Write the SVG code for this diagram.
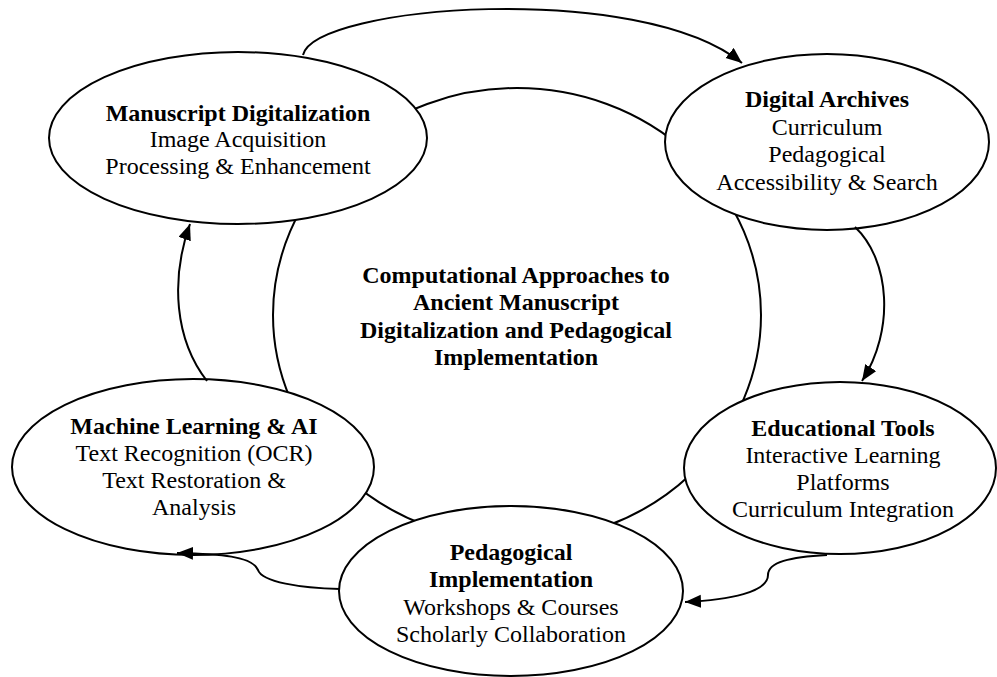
<svg xmlns="http://www.w3.org/2000/svg" width="997" height="677" viewBox="0 0 997 677">
  <style>
    .shape { fill: #ffffff; stroke: #000000; stroke-width: 2; }
    .edge { fill: none; stroke: #000000; stroke-width: 2; }
    text { font-family: "Liberation Serif", "Times New Roman", serif; font-size: 24px; fill: #000000; text-anchor: middle; }
    .title { font-weight: bold; }
  </style>
  <defs>
    <marker id="arrow" markerUnits="userSpaceOnUse" markerWidth="18" markerHeight="14" refX="16" refY="6.5" orient="auto">
      <path d="M0,0 L16,6.5 L0,13 z" fill="#000000"/>
    </marker>
  </defs>

  <rect width="997" height="677" fill="#ffffff"/>

  <!-- central topic -->
  <g id="center">
    <ellipse class="shape" cx="517" cy="315" rx="244" ry="227"/>
    <text class="title" x="516" y="283">Computational Approaches to</text>
    <text class="title" x="516" y="310">Ancient Manuscript</text>
    <text class="title" x="516" y="338">Digitalization and Pedagogical</text>
    <text class="title" x="516" y="365">Implementation</text>
  </g>

  <g id="manuscript-digitalization">
    <ellipse class="shape" cx="238" cy="138" rx="189" ry="86"/>
    <text class="title" x="238" y="121">Manuscript Digitalization</text>
    <text x="238" y="147">Image Acquisition</text>
    <text x="238" y="174">Processing &amp; Enhancement</text>
  </g>

  <g id="digital-archives">
    <ellipse class="shape" cx="827" cy="142" rx="162" ry="88"/>
    <text class="title" x="827" y="107">Digital Archives</text>
    <text x="827" y="135">Curriculum</text>
    <text x="827" y="162">Pedagogical</text>
    <text x="827" y="190">Accessibility &amp; Search</text>
  </g>

  <g id="educational-tools">
    <ellipse class="shape" cx="840" cy="468" rx="156" ry="86"/>
    <text class="title" x="843" y="436">Educational Tools</text>
    <text x="843" y="463">Interactive Learning</text>
    <text x="843" y="490">Platforms</text>
    <text x="843" y="517">Curriculum Integration</text>
  </g>

  <g id="pedagogical-implementation">
    <ellipse class="shape" cx="511" cy="591" rx="172" ry="85"/>
    <text class="title" x="511" y="560">Pedagogical</text>
    <text class="title" x="511" y="587">Implementation</text>
    <text x="511" y="615">Workshops &amp; Courses</text>
    <text x="511" y="642">Scholarly Collaboration</text>
  </g>

  <g id="machine-learning">
    <ellipse class="shape" cx="193" cy="467" rx="181" ry="88"/>
    <text class="title" x="194" y="434">Machine Learning &amp; AI</text>
    <text x="194" y="461">Text Recognition (OCR)</text>
    <text x="194" y="488">Text Restoration &amp;</text>
    <text x="194" y="515">Analysis</text>
  </g>

  <!-- cycle connectors -->
  <g id="connectors">
    <path class="edge" marker-end="url(#arrow)" d="M303,55 C315,5 640,-20 742,63"/>
    <path class="edge" marker-end="url(#arrow)" d="M855,227 C890,260 895,330 862,381"/>
    <path class="edge" marker-end="url(#arrow)" d="M827,555 C790,557 768,562 768,575 C768,592 730,600 685,602"/>
    <path class="edge" marker-end="url(#arrow)" d="M340,589 C300,588 262,582 258,570 C252,556 220,554 177,553"/>
    <path class="edge" marker-end="url(#arrow)" d="M207,381 C175,340 170,280 190,224"/>
  </g>
</svg>
